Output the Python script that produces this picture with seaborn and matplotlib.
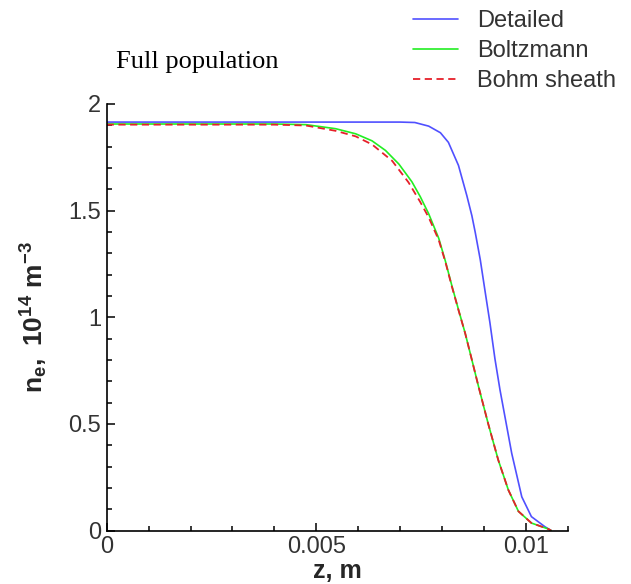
import numpy as np
import pandas as pd
import matplotlib
matplotlib.use('Agg')
import matplotlib.pyplot as plt
from matplotlib.ticker import MultipleLocator, FixedLocator, FixedFormatter
import seaborn as sns

# electron density profiles
z_detailed = [0.0, 0.0070, 0.00735, 0.00768, 0.00796, 0.00815, 0.00839, 0.00859, 0.00871,
              0.00879, 0.00891, 0.00903, 0.00914, 0.00926, 0.00938, 0.00966, 0.00990,
              0.01013, 0.01045, 0.0106]
ne_detailed = [1.915, 1.915, 1.913, 1.896, 1.865, 1.820, 1.712, 1.570, 1.476,
               1.398, 1.270, 1.115, 0.975, 0.805, 0.660, 0.362, 0.158,
               0.065, 0.018, 0.0]

z_boltzmann = [0.0, 0.0040, 0.00475, 0.00546, 0.00594, 0.00633, 0.00665, 0.00697, 0.00728,
               0.00748, 0.00768, 0.00792, 0.00808, 0.00823, 0.00839, 0.00855, 0.00871,
               0.00887, 0.00910, 0.00934, 0.00958, 0.00982, 0.01013, 0.01052, 0.0106]
ne_boltzmann = [1.906, 1.906, 1.903, 1.884, 1.860, 1.827, 1.782, 1.718, 1.635,
                1.565, 1.485, 1.370, 1.262, 1.150, 1.036, 0.925, 0.800,
                0.674, 0.50, 0.33, 0.19, 0.09, 0.035, 0.008, 0.0]

z_bohm = [0.0, 0.0040, 0.00475, 0.00546, 0.00594, 0.00633, 0.00681, 0.00720, 0.00748,
          0.00768, 0.00792, 0.00808, 0.00823, 0.00839, 0.00855, 0.00871, 0.00887,
          0.00910, 0.00934, 0.00958, 0.00982, 0.01013, 0.01052, 0.0106]
ne_bohm = [1.903, 1.903, 1.899, 1.874, 1.848, 1.810, 1.733, 1.632, 1.540,
           1.468, 1.362, 1.258, 1.146, 1.034, 0.925, 0.800, 0.674,
           0.50, 0.33, 0.19, 0.09, 0.035, 0.008, 0.0]

series_names = ['Detailed', 'Boltzmann', 'Bohm sheath']
x_ticks = [0, 0.005, 0.01]
x_ticklabels = ['0', '0.005', '0.01']
y_ticks = [0, 0.5, 1, 1.5, 2]
y_ticklabels = ['0', '0.5', '1', '1.5', '2']

sns.set_theme(style='white')
plt.rcParams['font.family'] = ['Liberation Sans', 'DejaVu Sans']
plt.rcParams['mathtext.fontset'] = 'custom'
plt.rcParams['mathtext.rm'] = 'Liberation Sans:bold'
plt.rcParams['mathtext.it'] = 'Liberation Sans:bold'
plt.rcParams['mathtext.bf'] = 'Liberation Sans:bold'
plt.rcParams['mathtext.default'] = 'rm'

df_det = pd.DataFrame({'z': z_detailed, 'ne': ne_detailed})
df_bol = pd.DataFrame({'z': z_boltzmann, 'ne': ne_boltzmann})
df_boh = pd.DataFrame({'z': z_bohm, 'ne': ne_bohm})

fig = plt.figure(figsize=(6.31, 5.84), dpi=100)
ax = fig.add_axes([0.169, 0.0916, 0.731, 0.7304])

sns.lineplot(data=df_det, x='z', y='ne', ax=ax, color='#5050ff', lw=1.2,
             label=series_names[0], sort=False, estimator=None)
sns.lineplot(data=df_bol, x='z', y='ne', ax=ax, color='#22ee22', lw=1.2,
             label=series_names[1], sort=False, estimator=None)
sns.lineplot(data=df_boh, x='z', y='ne', ax=ax, color='#e6202a', lw=1.3,
             label=series_names[2], sort=False, estimator=None, dashes=False)
ax.lines[-1].set_dashes([4, 2.5])

ax.set_xlim(0, 0.011)
ax.set_ylim(0, 2)
ax.xaxis.set_major_locator(FixedLocator(x_ticks))
ax.xaxis.set_major_formatter(FixedFormatter(x_ticklabels))
ax.xaxis.set_minor_locator(MultipleLocator(0.001))
ax.yaxis.set_major_locator(FixedLocator(y_ticks))
ax.yaxis.set_major_formatter(FixedFormatter(y_ticklabels))
ax.yaxis.set_minor_locator(MultipleLocator(0.1))

for side in ['top', 'right']:
    ax.spines[side].set_visible(False)
for side in ['left', 'bottom']:
    ax.spines[side].set_color('black')
    ax.spines[side].set_linewidth(1.2)

ax.tick_params(which='both', direction='in', color='black', width=1.1,
               bottom=True, left=True, top=False, right=False)
ax.tick_params(which='major', length=6, labelsize=17, labelcolor='#333333', pad=4)
ax.tick_params(which='minor', length=3.5)

ax.set_xlabel('z, m', fontsize=18, fontweight='bold', labelpad=1)
ax.set_ylabel(r'$n_e,\ 10^{14}\ m^{-3}$', fontsize=19, labelpad=13)

fig.text(116 / 631, 1 - 62 / 584, 'Full population', fontsize=19,
         family='Liberation Serif', va='center', ha='left', color='black')

ax.legend(loc='upper left', bbox_to_anchor=(413 / 631, 1 - 10 / 584),
          bbox_transform=fig.transFigure, frameon=False, fontsize=17,
          handlelength=1.9, handletextpad=0.8, labelspacing=0.34,
          borderpad=0, borderaxespad=0, labelcolor='#333333')

fig.savefig('out.png', dpi=100)
